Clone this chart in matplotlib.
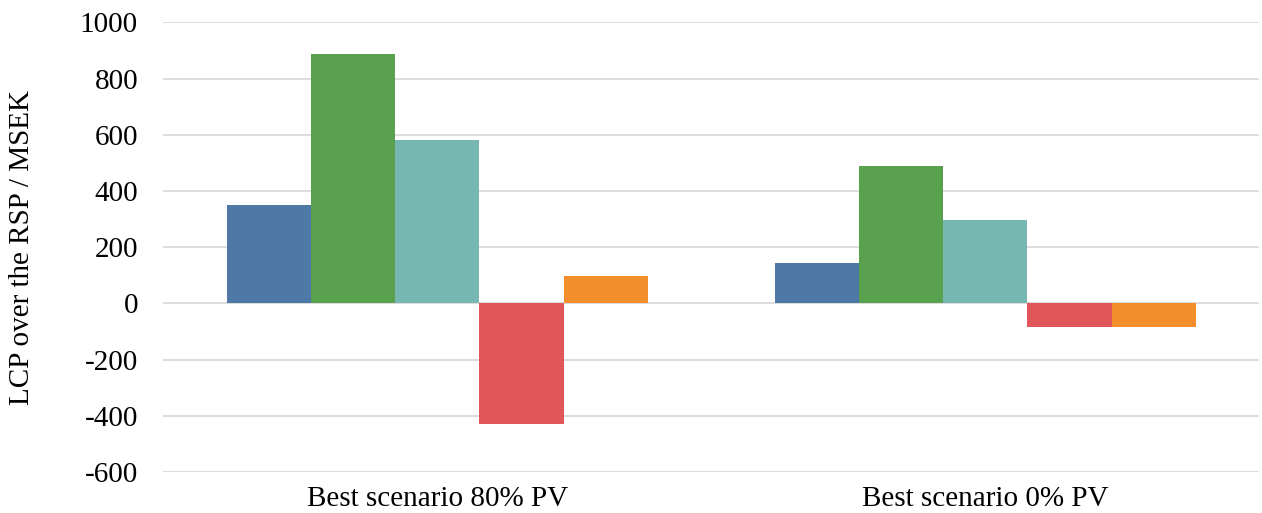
import numpy as np
import matplotlib.pyplot as plt

plt.rcParams['font.family'] = ['Liberation Serif', 'DejaVu Serif']
plt.rcParams['axes.unicode_minus'] = False

scenarios = ['Best scenario 80% PV', 'Best scenario 0% PV']
series_colors = ['#4e79a7', '#59a14f', '#76b7b2', '#e15759', '#f28e2b']
# LCP per case, one list per scenario
lcp_80pv = [350, 889, 582, -430, 97]
lcp_0pv = [144, 487, 295, -83, -83]
yticks = [-600, -400, -200, 0, 200, 400, 600, 800, 1000]

values = np.array([lcp_80pv, lcp_0pv])
n_series = values.shape[1]
width = 0.1537
x = np.arange(len(scenarios))

fig = plt.figure(figsize=(12.62, 5.13), dpi=100)
ax = fig.add_axes([0.1292, 0.080, 0.8688, 0.8765])

for i in range(n_series):
    offs = (i - (n_series - 1) / 2) * width
    ax.bar(x + offs, values[:, i], width, color=series_colors[i], zorder=3)

ax.set_xlim(-0.5, len(scenarios) - 0.5)
ax.set_ylim(-600, 1000)
ax.set_yticks(yticks)
ax.set_xticks(x)
ax.set_xticklabels(scenarios)
ax.yaxis.grid(True, color='#d9d9d9', linewidth=1.3, zorder=0)
ax.set_axisbelow(True)
for s in ax.spines.values():
    s.set_visible(False)
ax.tick_params(axis='both', length=0, labelsize=21, colors='black')
ax.tick_params(axis='y', pad=18)
ax.tick_params(axis='x', pad=10)
ax.set_ylabel('LCP over the RSP / MSEK', fontsize=21, va='center')
ax.yaxis.set_label_coords(-0.1286, 0.5)

fig.savefig('out.png', dpi=100)
